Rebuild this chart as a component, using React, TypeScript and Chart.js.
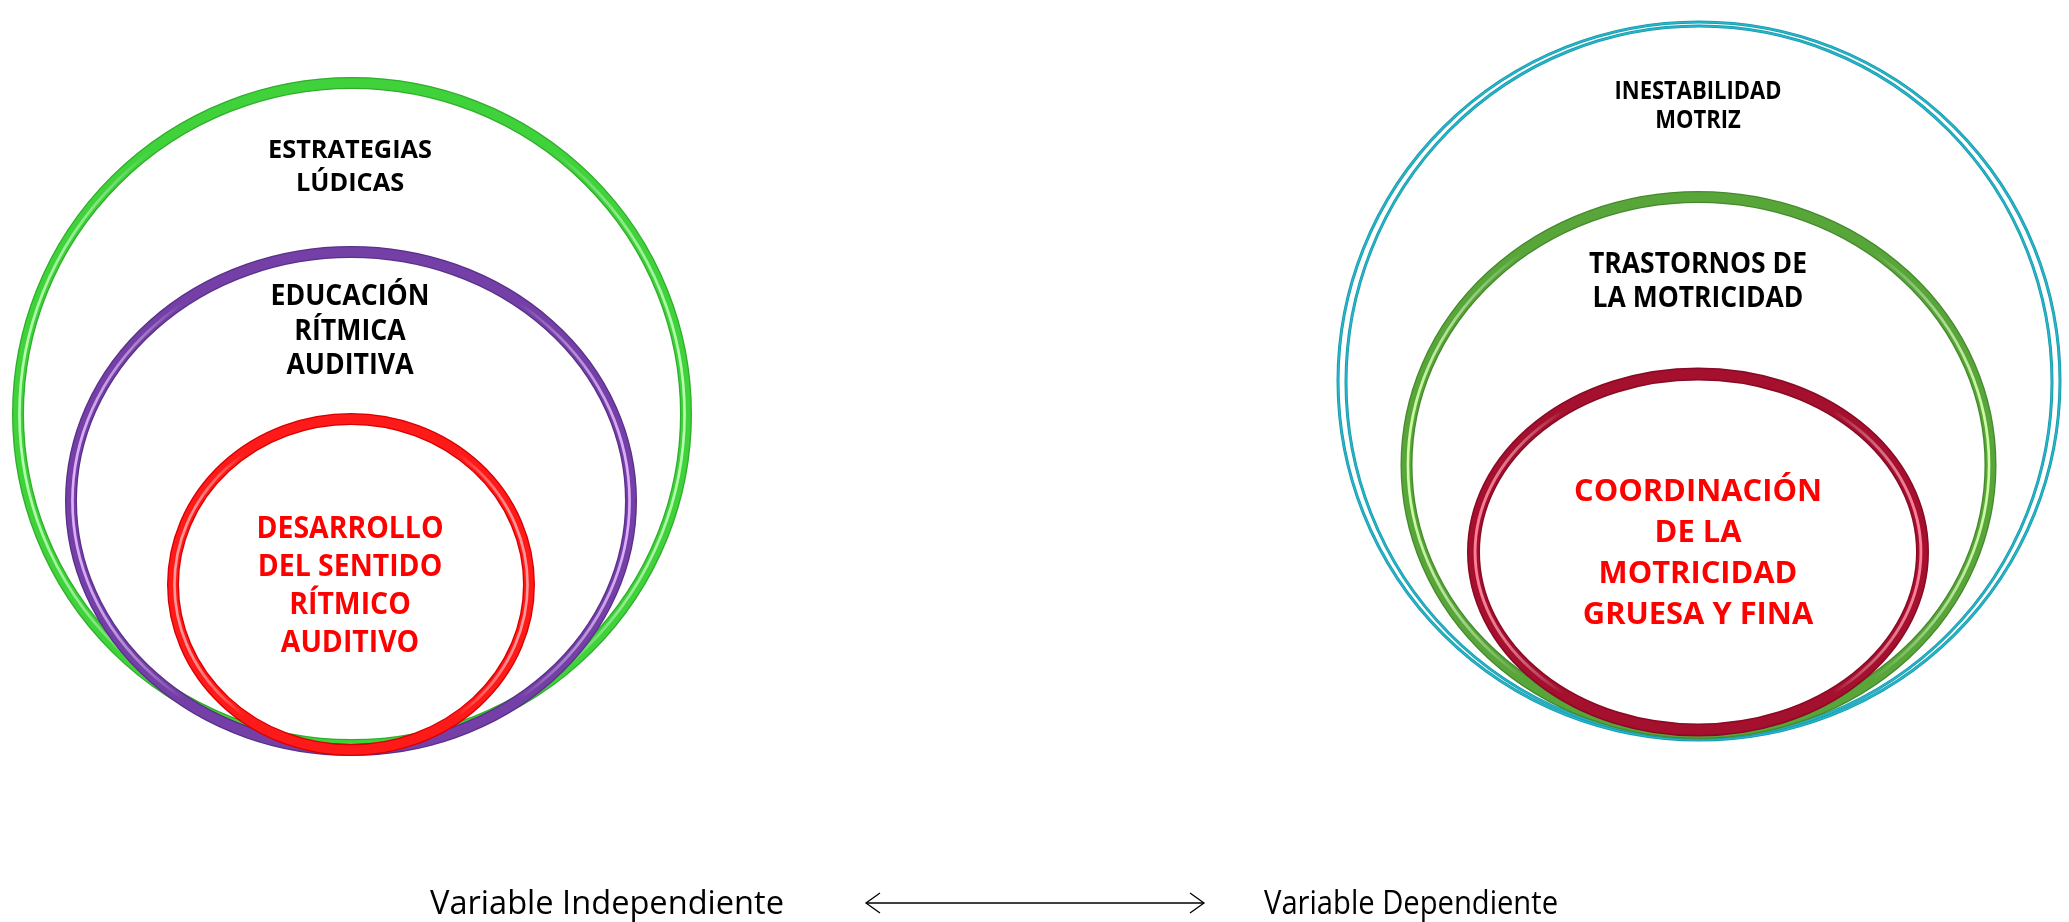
import React, { useEffect, useRef } from "react";
import { Chart, registerables } from "chart.js";

Chart.register(...registerables);

// ---------- data (in page pixels) ----------
const ringNames = [
  "Estrategias lúdicas",
  "Educación rítmica auditiva",
  "Desarrollo del sentido rítmico auditivo",
  "Inestabilidad motriz (exterior)",
  "Inestabilidad motriz (interior)",
  "Trastornos de la motricidad",
  "Coordinación de la motricidad gruesa y fina",
];
const ringCx = [352, 351, 351, 1699, 1699, 1698.5, 1698];
const ringCy = [414, 501, 584.5, 381, 382, 465, 552];
const ringRx = [334, 280, 178, 361, 353, 292, 224.5];
const ringRy = [331, 249, 165.5, 359, 356, 268, 178];

const leftOuterLines = ["ESTRATEGIAS", "LÚDICAS"];
const leftMiddleLines = ["EDUCACIÓN", "RÍTMICA", "AUDITIVA"];
const leftInnerLines = ["DESARROLLO", "DEL SENTIDO", "RÍTMICO", "AUDITIVO"];
const rightOuterLines = ["INESTABILIDAD", "MOTRIZ"];
const rightMiddleLines = ["TRASTORNOS DE", "LA MOTRICIDAD"];
const rightInnerLines = ["COORDINACIÓN", "DE LA", "MOTRICIDAD", "GRUESA Y FINA"];
const bottomLabels = ["Variable Independiente", "Variable Dependiente"];
const arrowX = [866, 1204];
const arrowY = [903, 903];

// ---------- styles / layout ----------
const W = 2069;
const H = 922;

type RingStyle = { kind: "tube" | "thin"; width: number; dark: string; base: string; light: string };
const ringStyles: RingStyle[] = [
  { kind: "tube", width: 12, dark: "#2fae2b", base: "#40d23b", light: "#b8ffb0" },
  { kind: "tube", width: 12, dark: "#5a3088", base: "#7440a8", light: "#e0b0ff" },
  { kind: "tube", width: 12, dark: "#d80000", base: "#ff1a1a", light: "#ff9a9a" },
  { kind: "thin", width: 3, dark: "#1797ab", base: "#26b6ca", light: "#7fe4f0" },
  { kind: "thin", width: 3, dark: "#1797ab", base: "#26b6ca", light: "#7fe4f0" },
  { kind: "tube", width: 12, dark: "#46892d", base: "#58a63a", light: "#d2ffa8" },
  { kind: "tube", width: 13, dark: "#880a24", base: "#a6102f", light: "#ff7f98" },
];

type TextGroup = {
  lines: string[];
  x: number;
  ys: number[]; // vertical centres of capitals
  size: number;
  cap: number;
  bold: boolean;
  color: string;
  refWidth: number; // width of first line
};

const textGroups: TextGroup[] = [
  { lines: leftOuterLines, x: 350, ys: [149, 182], size: 25, cap: 18, bold: true, color: "#000", refWidth: 164 },
  { lines: leftMiddleLines, x: 350, ys: [295, 330, 364], size: 29, cap: 20.5, bold: true, color: "#000", refWidth: 159 },
  { lines: leftInnerLines, x: 350, ys: [527, 565, 603, 641], size: 30, cap: 21.5, bold: true, color: "#ff0000", refWidth: 187 },
  { lines: rightOuterLines, x: 1698, ys: [90, 119], size: 25, cap: 18, bold: true, color: "#000", refWidth: 167 },
  { lines: rightMiddleLines, x: 1698, ys: [262, 296], size: 29, cap: 21, bold: true, color: "#000", refWidth: 218 },
  { lines: rightInnerLines, x: 1698, ys: [490, 531, 572, 613], size: 30, cap: 21, bold: true, color: "#ff0000", refWidth: 248 },
  { lines: [bottomLabels[0]], x: 607, ys: [902], size: 33, cap: 23.5, bold: false, color: "#000", refWidth: 354 },
  { lines: [bottomLabels[1]], x: 1411, ys: [902], size: 33, cap: 23.5, bold: false, color: "#000", refWidth: 294 },
];

function ellipsePath(ctx: CanvasRenderingContext2D, cx: number, cy: number, rx: number, ry: number) {
  ctx.beginPath();
  ctx.ellipse(cx, cy, Math.max(rx, 0.1), Math.max(ry, 0.1), 0, 0, Math.PI * 2);
}

const diagramPlugin = {
  id: "diagram",
  afterDatasetsDraw(chart: any) {
    const ctx: CanvasRenderingContext2D = chart.ctx;
    const xs = chart.scales.x;
    const ys = chart.scales.y;
    ctx.save();
    // rings
    for (let i = 0; i < ringCx.length; i++) {
      const cx = xs.getPixelForValue(ringCx[i]);
      const cy = ys.getPixelForValue(ringCy[i]);
      const rx = Math.abs(xs.getPixelForValue(ringCx[i] + ringRx[i]) - cx);
      const ry = Math.abs(ys.getPixelForValue(ringCy[i] + ringRy[i]) - cy);
      const s = ringStyles[i];
      if (s.kind === "thin") {
        ellipsePath(ctx, cx, cy, rx, ry);
        ctx.strokeStyle = s.dark;
        ctx.lineWidth = s.width;
        ctx.stroke();
        ellipsePath(ctx, cx, cy, rx, ry);
        ctx.strokeStyle = s.base;
        ctx.lineWidth = s.width * 0.5;
        ctx.stroke();
      } else {
        const w = s.width;
        ellipsePath(ctx, cx, cy, rx, ry);
        ctx.strokeStyle = s.dark;
        ctx.lineWidth = w;
        ctx.stroke();
        ellipsePath(ctx, cx, cy, rx, ry);
        ctx.strokeStyle = s.base;
        ctx.lineWidth = w * 0.78;
        ctx.stroke();
        const g = ctx.createLinearGradient(cx - rx, 0, cx + rx, 0);
        g.addColorStop(0, s.light);
        g.addColorStop(0.2, "rgba(255,255,255,0)");
        g.addColorStop(0.8, "rgba(255,255,255,0)");
        g.addColorStop(1, s.light);
        ellipsePath(ctx, cx, cy, rx - w * 0.12, ry - w * 0.12);
        ctx.strokeStyle = g;
        ctx.lineWidth = w * 0.22;
        ctx.stroke();
      }
    }
    // arrow heads
    const ax0 = xs.getPixelForValue(arrowX[0]);
    const ax1 = xs.getPixelForValue(arrowX[1]);
    const ay0 = ys.getPixelForValue(arrowY[0]);
    const ay1 = ys.getPixelForValue(arrowY[1]);
    ctx.strokeStyle = "#000";
    ctx.lineWidth = 1.3;
    ctx.beginPath();
    ctx.moveTo(ax0 + 14, ay0 - 10);
    ctx.lineTo(ax0, ay0);
    ctx.lineTo(ax0 + 14, ay0 + 10);
    ctx.moveTo(ax1 - 14, ay1 - 10);
    ctx.lineTo(ax1, ay1);
    ctx.lineTo(ax1 - 14, ay1 + 10);
    ctx.stroke();
    // texts
    ctx.textAlign = "center";
    ctx.textBaseline = "alphabetic";
    for (const t of textGroups) {
      ctx.font = `${t.bold ? "bold " : ""}${t.size}px "Open Sans", "Noto Sans", sans-serif`;
      const sx = t.refWidth / ctx.measureText(t.lines[0]).width;
      ctx.fillStyle = t.color;
      t.lines.forEach((line, k) => {
        const px = xs.getPixelForValue(t.x);
        const py = ys.getPixelForValue(t.ys[k] + t.cap / 2);
        ctx.save();
        ctx.translate(px, py);
        ctx.scale(sx, 1);
        ctx.fillText(line, 0, 0);
        ctx.restore();
      });
    }
    ctx.restore();
  },
};

export default function App() {
  const ref = useRef<HTMLCanvasElement>(null);
  useEffect(() => {
    if (!ref.current) return;
    const chart = new Chart(ref.current, {
      type: "scatter",
      data: {
        datasets: [
          {
            label: "Relación",
            data: arrowX.map((x, i) => ({ x, y: arrowY[i] })),
            showLine: true,
            borderColor: "#000",
            borderWidth: 1.3,
            pointRadius: 0,
          },
        ],
      },
      options: {
        animation: false,
        responsive: false,
        maintainAspectRatio: false,
        devicePixelRatio: 1,
        layout: { padding: 0 },
        events: [],
        scales: {
          x: { type: "linear", min: 0, max: W, display: false },
          y: { type: "linear", min: 0, max: H, reverse: true, display: false },
        },
        plugins: { legend: { display: false }, tooltip: { enabled: false }, title: { display: false } },
      },
      plugins: [diagramPlugin],
    });
    return () => chart.destroy();
  }, []);
  return (
    <div style={{ position: "fixed", left: 0, top: 0, width: W, height: H, background: "#fff" }}>
      <canvas ref={ref} width={W} height={H} style={{ display: "block", width: W, height: H }} />
    </div>
  );
}
